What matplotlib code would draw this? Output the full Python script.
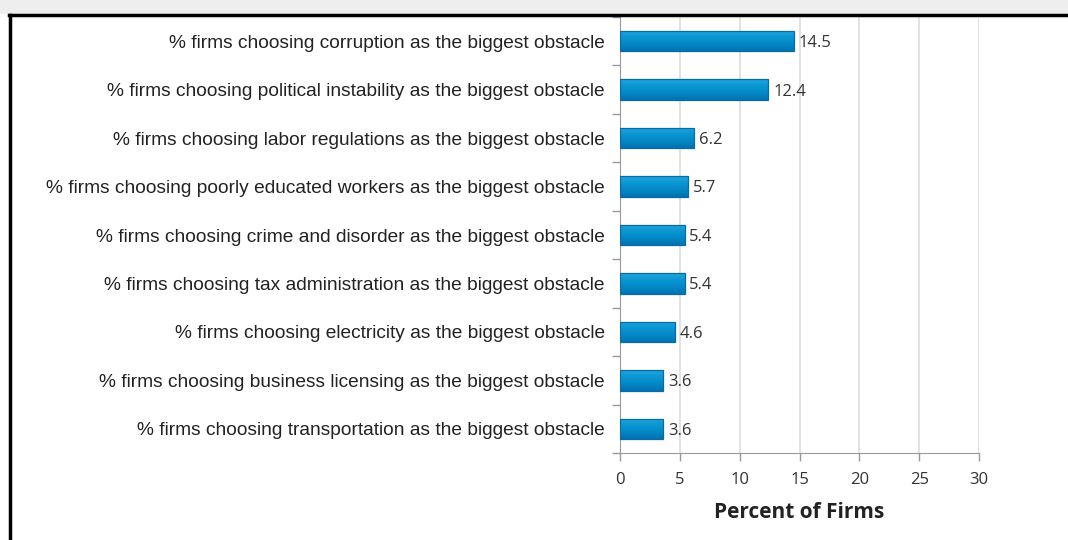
import numpy as np
import matplotlib.pyplot as plt
from matplotlib.lines import Line2D
from matplotlib.patches import Rectangle
from matplotlib.colors import LinearSegmentedColormap

# obstacles, top to bottom as in the chart
labels = [
    "% firms choosing corruption as the biggest obstacle",
    "% firms choosing political instability as the biggest obstacle",
    "% firms choosing labor regulations as the biggest obstacle",
    "% firms choosing poorly educated workers as the biggest obstacle",
    "% firms choosing crime and disorder as the biggest obstacle",
    "% firms choosing tax administration as the biggest obstacle",
    "% firms choosing electricity as the biggest obstacle",
    "% firms choosing business licensing as the biggest obstacle",
    "% firms choosing transportation as the biggest obstacle",
]
values = [14.5, 12.4, 6.2, 5.7, 5.4, 5.4, 4.6, 3.6, 3.6]
xticks = [0, 5, 10, 15, 20, 25, 30]

W, H = 1068, 540
fig = plt.figure(figsize=(W / 100, H / 100), dpi=100)

# grey strip above the frame
fig.patches.append(Rectangle((0, 1 - 14 / H), 1, 14 / H, transform=fig.transFigure,
                             facecolor="#eeeeee", edgecolor="none", zorder=0))
# black frame lines (top and left)
fig.lines.append(Line2D([9 / W, 1], [1 - 15 / H, 1 - 15 / H], transform=fig.transFigure,
                        color="black", lw=2.5))
fig.lines.append(Line2D([10 / W, 10 / W], [0, 1 - 15 / H], transform=fig.transFigure,
                        color="black", lw=2.5))

ax = fig.add_axes([620 / W, 1 - 453 / H, (979 - 620) / W, (453 - 17) / H])

n = len(values)
y = np.arange(n)
bars = ax.barh(y, values, height=0.42, color="none", edgecolor="#0a6aa6", linewidth=0.9, zorder=4)

# vertical gradient inside each bar
cmap = LinearSegmentedColormap.from_list("bar", ["#22a6de", "#0a96d2", "#0388c6", "#0272b0"])
grad = np.linspace(0, 1, 64).reshape(-1, 1)
for b in bars:
    x0, y0, w, h = b.get_x(), b.get_y(), b.get_width(), b.get_height()
    im = ax.imshow(grad, cmap=cmap, aspect="auto", extent=(x0, x0 + w, y0 + h, y0),
                   zorder=3, interpolation="bilinear")
    im.set_clip_path(b)

ax.set_xlim(0, 30)
ax.set_ylim(n - 0.5, -0.5)
ax.set_aspect("auto")
ax.set_xticks(xticks)
ax.set_xticklabels([str(t) for t in xticks], fontfamily="Open Sans", fontsize=12, color="#333333")

ax.set_yticks(y)
ax.set_yticklabels(labels, fontfamily="Liberation Sans", fontsize=13.8, color="#222222")
ax.tick_params(axis="y", which="major", length=0, pad=11)
ax.set_yticks(np.arange(n + 1) - 0.5, minor=True)
ax.tick_params(axis="y", which="minor", length=6, color="#999999", width=1)
ax.tick_params(axis="x", length=6, color="#999999", width=1, pad=8)

ax.grid(axis="x", color="#dddddd", lw=1.2, zorder=0)
for s in ["top", "right"]:
    ax.spines[s].set_visible(False)
ax.spines["left"].set_color("#999999")
ax.spines["bottom"].set_color("#999999")

for b, v in zip(bars, values):
    ax.text(v + 0.4, b.get_y() + b.get_height() / 2 + 0.04, f"{v}", va="center", ha="left",
            fontfamily="Open Sans", fontsize=12, color="#333333", zorder=5)

ax.set_xlabel("Percent of Firms", fontfamily="Open Sans", fontweight="bold", fontsize=15,
              color="#222222", labelpad=10)

fig.savefig("out.png", dpi=100, facecolor="white")
